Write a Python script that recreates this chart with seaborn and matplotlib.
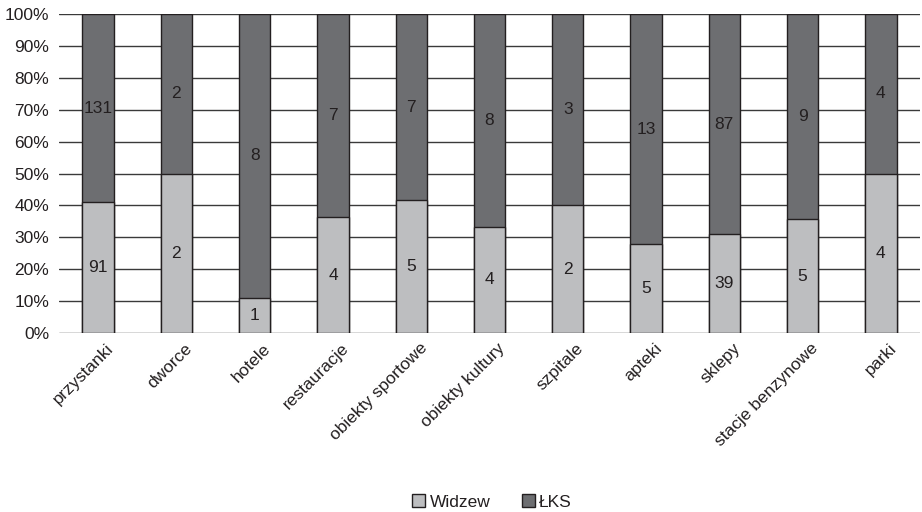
import matplotlib
matplotlib.use("Agg")
import matplotlib.pyplot as plt
import matplotlib.transforms as mtransforms
import seaborn as sns
import pandas as pd
import numpy as np
from matplotlib.patches import Patch
from matplotlib.ticker import PercentFormatter, MultipleLocator

categories = ["przystanki", "dworce", "hotele", "restauracje", "obiekty sportowe",
              "obiekty kultury", "szpitale", "apteki", "sklepy", "stacje benzynowe", "parki"]
widzew = [91, 2, 1, 4, 5, 4, 2, 5, 39, 5, 4]
lks = [131, 2, 8, 7, 7, 8, 3, 13, 87, 9, 4]

LIGHT = "#bdbec0"
DARK = "#6d6e71"
EDGE = "#231f20"
TEXT = "#231f20"
FS = 12.5

sns.set_theme(style="white")
plt.rcParams['font.family'] = ['Liberation Sans', 'DejaVu Sans']

w = np.array(widzew, float)
l = np.array(lks, float)
tot = w + l
df = pd.DataFrame({"cat": categories,
                   "w_pct": w / tot * 100,
                   "l_pct": l / tot * 100,
                   "total": 100.0})

fig = plt.figure(figsize=(9.22, 5.12), dpi=100)
ax = fig.add_axes([59/922, 1 - 333/512, (920-59)/922, (333-14)/512])

for y in range(0, 101, 10):
    ax.axhline(y, color="#3a3a3a", lw=1.0, zorder=0)

sns.barplot(data=df, x="cat", y="total", color=DARK, width=0.4, saturation=1,
            edgecolor=EDGE, linewidth=1.0, ax=ax, zorder=2)
sns.barplot(data=df, x="cat", y="w_pct", color=LIGHT, width=0.4, saturation=1,
            edgecolor=EDGE, linewidth=1.0, ax=ax, zorder=3)

for i in range(len(categories)):
    ax.text(i, df["w_pct"][i] / 2, str(widzew[i]), ha="center", va="center",
            fontsize=FS, color=TEXT, zorder=5)
    ax.text(i, df["w_pct"][i] + df["l_pct"][i] / 2, str(lks[i]), ha="center", va="center",
            fontsize=FS, color=TEXT, zorder=5)

ax.set_ylim(0, 100)
ax.set_xlim(-0.5, len(categories) - 0.5)
ax.yaxis.set_major_locator(MultipleLocator(10))
ax.yaxis.set_major_formatter(PercentFormatter(decimals=0))
ax.set_xlabel("")
ax.set_ylabel("")
for s in ax.spines.values():
    s.set_visible(False)
ax.tick_params(axis="y", labelsize=FS, labelcolor=TEXT, length=0, pad=7)
ax.tick_params(axis="x", labelsize=FS, labelcolor=TEXT, length=0, pad=4)
offset = mtransforms.ScaledTranslation(8/100, -2/100, fig.dpi_scale_trans)
for lab in ax.get_xticklabels():
    lab.set_rotation(45)
    lab.set_ha("right")
    lab.set_rotation_mode("anchor")
    lab.set_transform(lab.get_transform() + offset)

handles = [Patch(facecolor=LIGHT, edgecolor=EDGE, label="Widzew"),
           Patch(facecolor=DARK, edgecolor=EDGE, label="ŁKS")]
fig.legend(handles=handles, loc="center", bbox_to_anchor=(492/922, 1 - 502/512), ncol=2,
           frameon=False, fontsize=FS, handlelength=0.75, handleheight=0.75,
           handletextpad=0.25, columnspacing=1.8, labelcolor=TEXT)

fig.savefig("out.png", dpi=100)
